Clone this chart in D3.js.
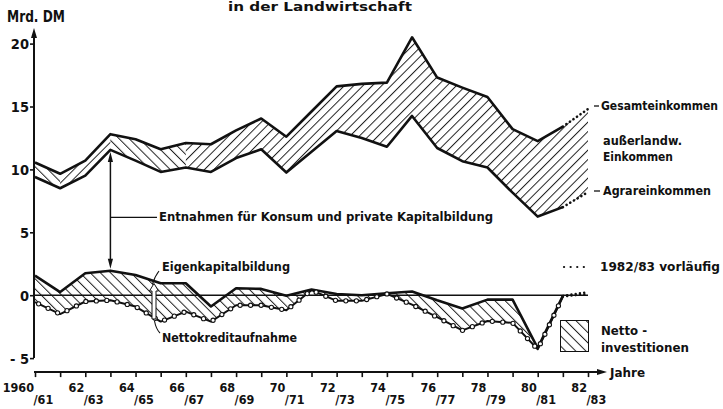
<!DOCTYPE html>
<html>
<head>
<meta charset="utf-8">
<script src="https://cdn.jsdelivr.net/npm/d3@7"></script>
<style>
  body { margin: 0; background: #fff; }
  svg { display: block; }
  text { font-family: "DejaVu Sans Condensed", "DejaVu Sans", sans-serif; font-weight: bold; fill: #111; }
</style>
</head>
<body>
<svg id="chart" width="723" height="409"></svg>
<script>
// Wirtschaftsjahre 1960/61 ... 1982/83 (first calendar year of each)
const years = d3.range(1960, 1983);

// Mrd. DM
const gesamt = [10.55, 9.65, 10.7, 12.8, 12.4, 11.6, 12.1, 12.0, 13.1, 14.05, 12.6, 14.6,
                16.6, 16.8, 16.9, 20.5, 17.3, 16.5, 15.75, 13.2, 12.25, 13.4, 14.8];
const agrar  = [9.4, 8.5, 9.5, 11.55, 10.7, 9.8, 10.15, 9.8, 10.9, 11.6, 9.75, 11.4,
                13.05, 12.5, 11.8, 14.25, 11.7, 10.65, 10.15, 8.15, 6.25, 7.0, 8.2];
const eigen  = [1.55, 0.25, 1.75, 1.95, 1.6, 0.95, 0.95, -0.9, 0.55, 0.5, -0.05, 0.45,
                0.1, 0.0, 0.15, 0.3, -0.4, -1.05, -0.35, -0.35, -4.2, -0.05, 0.25];
const kredit = [-0.55, -1.5, -0.5, -0.4, -0.9, -2.1, -1.3, -2.1, -0.8, -0.8, -1.2, 0.4,
                -0.45, -0.45, 0.1, -0.75, -1.75, -2.8, -2.05, -2.2, -4.3, -0.1, 0.1];

const yTicks = [-5, 0, 5, 10, 15, 20];
const xLabelYears = d3.range(1960, 1983, 2);
const lastFinal = 21;            // 1981/82: last final value, 1982/83 provisional
// stretches of the income band drawn with back-slanted hatching
const backHatchSpans = [[1960, 1961], [1963, 1966]];

const svg = d3.select("#chart");
const x = d3.scaleLinear().domain([1960, 1982]).range([35, 588]);
const y = d3.scaleLinear().domain([-5, 20]).range([358.1, 43.6]);
const ink = "#111";

// hatch patterns
const defs = svg.append("defs");
function hatch(id, size, angle) {
  const p = defs.append("pattern").attr("id", id)
    .attr("patternUnits", "userSpaceOnUse")
    .attr("width", size).attr("height", size)
    .attr("patternTransform", `rotate(${angle})`);
  p.append("line").attr("x1", 0.5).attr("y1", 0).attr("x2", 0.5).attr("y2", size)
    .attr("stroke", "#222").attr("stroke-width", 1);
}
hatch("hatchUp", 6.6, 45);
hatch("hatchBack", 7.2, -45);
hatch("hatchDown", 7.2, -45);

const clipBack = defs.append("clipPath").attr("id", "clipBack");
const clipFwd = defs.append("clipPath").attr("id", "clipFwd");
backHatchSpans.forEach(([a, b]) => {
  clipBack.append("rect").attr("x", x(a)).attr("width", x(b) - x(a))
    .attr("y", 0).attr("height", 409);
});
// complement of the back-hatched stretches
const edges = [x(1960) - 5, ...backHatchSpans.flat().map(x), x(1982) + 20];
for (let k = 0; k < edges.length; k += 2) {
  clipFwd.append("rect").attr("x", edges[k]).attr("width", edges[k + 1] - edges[k])
    .attr("y", 0).attr("height", 409);
}

const idx = d3.range(years.length);
const solid = idx.filter(i => i <= lastFinal);
const prov = [lastFinal, lastFinal + 1];
const X = i => x(years[i]);

// ---- Einkommen band (außerlandwirtschaftliches Einkommen)
const bandPath = d3.area().x(X).y0(i => y(agrar[i])).y1(i => y(gesamt[i]))(idx);
svg.append("path").attr("d", bandPath)
  .attr("fill", "url(#hatchUp)").attr("clip-path", "url(#clipFwd)");
svg.append("path").attr("d", bandPath)
  .attr("fill", "url(#hatchBack)").attr("clip-path", "url(#clipBack)");

// ---- Nettoinvestitionen band
svg.append("path")
  .attr("d", d3.area().x(X).y0(i => y(kredit[i])).y1(i => y(eigen[i]))(solid))
  .attr("fill", "url(#hatchDown)");

// zero line
svg.append("line")
  .attr("x1", x(1960)).attr("x2", x(1982))
  .attr("y1", y(0)).attr("y2", y(0))
  .attr("stroke", ink).attr("stroke-width", 1.5);

function series(vals, ids, w, dotted) {
  const p = svg.append("path")
    .attr("d", d3.line().x(X).y(i => y(vals[i]))(ids))
    .attr("fill", "none").attr("stroke", ink)
    .attr("stroke-width", w)
    .attr("stroke-linejoin", "round");
  if (dotted) p.attr("stroke-dasharray", "0.1,4.2").attr("stroke-linecap", "round");
  return p;
}

series(gesamt, solid, 2.6);
series(agrar, solid, 2.6);
series(gesamt, prov, 2.6, true);
series(agrar, prov, 2.6, true);

series(eigen, solid, 2.6);
const kPath = series(kredit, solid, 2);
series(eigen, prov, 2.4, true);
series(kredit, prov, 2.4, true);

// small circles along Nettokreditaufnahme
const kn = kPath.node();
const kLen = kn.getTotalLength();
const marks = [];
for (let s = 4; s < kLen; s += 10.5) marks.push(kn.getPointAtLength(s));
svg.append("g").selectAll("circle").data(marks).join("circle")
  .attr("cx", d => d.x).attr("cy", d => d.y).attr("r", 2.1)
  .attr("fill", "#fff").attr("stroke", ink).attr("stroke-width", 1.1);

// ---- y axis
const yAxis = svg.append("g")
  .attr("transform", `translate(${x(1960) - 1},0)`)
  .call(d3.axisLeft(y).tickValues(yTicks).tickSize(4).tickSizeOuter(0)
    .tickFormat(d => d < 0 ? "- " + (-d) : d));
yAxis.select(".domain").remove();
yAxis.selectAll(".tick line").attr("stroke", ink).attr("stroke-width", 1.6);
yAxis.selectAll(".tick text")
  .attr("x", -5).attr("dy", "0.36em")
  .style("font-size", "14.5px").style("font-family", "DejaVu Sans Condensed, DejaVu Sans, sans-serif")
  .style("font-weight", "bold").attr("fill", ink);
svg.append("line")
  .attr("x1", x(1960) - 1).attr("x2", x(1960) - 1)
  .attr("y1", y(-5)).attr("y2", 34)
  .attr("stroke", ink).attr("stroke-width", 2);
svg.append("path")
  .attr("d", `M${x(1960) - 1},28 L${x(1960) + 2},38 L${x(1960) - 4},38 Z`)
  .attr("fill", ink);

// ---- x axis
const axisY = y(-5) + 14;
const xAxis = svg.append("g")
  .attr("transform", `translate(0,${axisY})`)
  .call(d3.axisBottom(x).tickValues(years).tickSize(5).tickSizeOuter(0).tickFormat(""));
xAxis.select(".domain").remove();
xAxis.selectAll(".tick line").attr("stroke", ink).attr("stroke-width", 1.6);
svg.append("line")
  .attr("x1", x(1960) - 1).attr("x2", 601)
  .attr("y1", axisY).attr("y2", axisY)
  .attr("stroke", ink).attr("stroke-width", 2);
svg.append("path")
  .attr("d", `M607,${axisY} L597,${axisY - 3} L597,${axisY + 3} Z`)
  .attr("fill", ink);

const xl = svg.append("g").selectAll("g").data(xLabelYears).join("g");
xl.append("text")
  .attr("x", d => x(d) - 1).attr("y", axisY + 20)
  .attr("text-anchor", "end").style("font-size", "12.5px")
  .text(d => d === 1960 ? "1960" : String(d % 100).padStart(2, "0"));
xl.append("text")
  .attr("x", d => x(d) - 1.5).attr("y", axisY + 32)
  .attr("text-anchor", "start").style("font-size", "12.5px")
  .text(d => "/" + String((d + 1) % 100).padStart(2, "0"));

// ---- labels
function label(str, x0, yb, size, width) {
  const t = svg.append("text").attr("x", x0).attr("y", yb)
    .style("font-size", size + "px").text(str);
  if (width) t.attr("textLength", width).attr("lengthAdjust", "spacingAndGlyphs");
  return t;
}
label("in der Landwirtschaft", 228, 11, 13, 184);
label("Mrd. DM", 7, 22, 15, 58);
label("Jahre", 610, axisY + 4.5, 12.5, 35);

label("Gesamteinkommen", 601, 109.5, 12.5, 117);
label("außerlandw.", 603, 145, 12.5, 79);
label("Einkommen", 603, 161, 12.5, 70);
label("Agrareinkommen", 603, 195, 12.5, 108);
label("Entnahmen für Konsum und private Kapitalbildung", 159, 221, 12.5, 334);
label("Eigenkapitalbildung", 162, 270.5, 12.5, 128);
label("Nettokreditaufnahme", 162, 342, 12.5, 135);
label("1982/83 vorläufig", 600, 270.5, 12.5, 120);
label("Netto -", 601, 335, 12.5, 46);
label("investitionen", 601, 351.5, 12.5, 88);

// leader dashes to the right-hand labels
svg.append("line").attr("x1", 594).attr("x2", 599)
  .attr("y1", 106).attr("y2", 106).attr("stroke", ink).attr("stroke-width", 1.3);
svg.append("line").attr("x1", 594).attr("x2", 600)
  .attr("y1", 191).attr("y2", 191).attr("stroke", ink).attr("stroke-width", 1.3);

// provisional legend dots
svg.append("line").attr("x1", 564).attr("x2", 589)
  .attr("y1", 267).attr("y2", 267)
  .attr("stroke", ink).attr("stroke-width", 2.2)
  .attr("stroke-dasharray", "0.1,6.5").attr("stroke-linecap", "round");

// Nettoinvestitionen legend swatch
svg.append("rect").attr("x", 560.5).attr("y", 320.5).attr("width", 28).attr("height", 31)
  .attr("fill", "url(#hatchDown)").attr("stroke", ink).attr("stroke-width", 1);

// double arrow: Entnahmen = Agrareinkommen minus Eigenkapitalbildung
const ax = x(1963);
const aTop = y(agrar[3]) + 2, aBot = y(eigen[3]) - 2;
svg.append("line").attr("x1", ax).attr("x2", ax).attr("y1", aTop + 6).attr("y2", aBot - 6)
  .attr("stroke", ink).attr("stroke-width", 1.5);
svg.append("path")
  .attr("d", `M${ax},${aTop} L${ax + 2.6},${aTop + 10} L${ax - 2.6},${aTop + 10} Z
              M${ax},${aBot} L${ax + 2.6},${aBot - 10} L${ax - 2.6},${aBot - 10} Z`)
  .attr("fill", ink);
svg.append("line").attr("x1", ax).attr("x2", 157)
  .attr("y1", 217.3).attr("y2", 217.3).attr("stroke", ink).attr("stroke-width", 1.2);

// hollow arrow marking the credit share
svg.append("path")
  .attr("d", "M154,283.5 L158.5,291 L156,291 L156,319 L152,319 L152,291 L149.5,291 Z")
  .attr("fill", "#fff").attr("stroke", ink).attr("stroke-width", 1);

// label leaders
svg.append("path").attr("d", "M159,271 Q155,276 152.5,284")
  .attr("fill", "none").attr("stroke", ink).attr("stroke-width", 1.1);
svg.append("path").attr("d", "M154.5,321 Q156,329 160,333")
  .attr("fill", "none").attr("stroke", ink).attr("stroke-width", 1.1);
</script>
</body>
</html>
